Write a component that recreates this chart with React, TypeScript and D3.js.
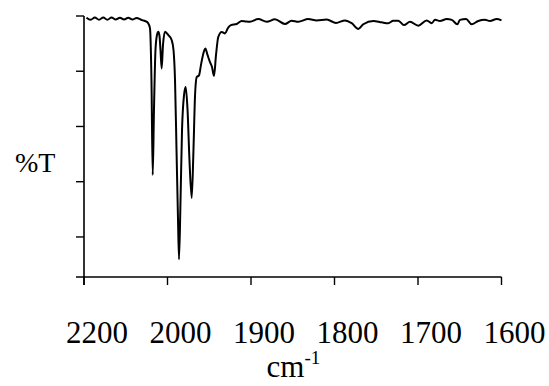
import React from "react";
import * as d3 from "d3";

// wavenumber (cm-1) and %T
const wavenumbers: number[] = [
  2097, 2092, 2087, 2082, 2077, 2072, 2067, 2062, 2057, 2052, 2047, 2042, 2037, 2033,
  2030.5, 2027, 2023.4, 2021, 2019.2, 2017.7, 2016.2, 2014.4, 2012.6, 2011, 2009.6, 2008.4,
  2007, 2005.4, 2003, 1999, 1995, 1992.8, 1991, 1989.2, 1987.4, 1986.2, 1984.4, 1982.6,
  1980.2, 1978.2, 1976, 1973.7, 1971, 1968.9, 1967, 1965, 1962.3, 1959.9, 1957.5, 1954.7,
  1952.1, 1949.1, 1946.7, 1944.3, 1941.9, 1939.2, 1935.1, 1931.1, 1927.5, 1924, 1917.1,
  1911.1, 1906, 1901.2, 1891.3, 1881.2, 1871.3, 1859.3, 1851.3, 1843.4, 1831.4, 1821.3,
  1809.3, 1798.2, 1787.4, 1779.4, 1771.5, 1765.5, 1753.5, 1743.5, 1735.6, 1729.6, 1723.6,
  1716.8, 1709.6, 1699.6, 1689.6, 1683.6, 1679.6, 1673.7, 1665.6, 1659.6, 1652.9, 1649.7,
  1642.5, 1635.7, 1627.8, 1619.8, 1613.8, 1605.8, 1600,
];
const transmittance: number[] = [
  99.4, 98.6, 99.5, 98.6, 99.5, 98.6, 99.5, 98.7, 99.4, 98.7, 99.4, 98.7, 99.3, 98.9,
  98.5, 98.2, 97.5, 95.6, 76.8, 42.4, 66, 87.7, 93.1, 94.3, 92.8, 87.7,
  81, 89.5, 94.3, 93.1, 91.3, 87.7, 76.8, 51.5, 26.1, 11.9, 33.4, 58.7,
  71.4, 74.3, 66, 47.9, 34.1, 51.5, 71.4, 77.9, 78.5, 82.3, 85.9, 88.2,
  85.9, 83.3, 81.5, 78.3, 85.9, 92.4, 94.2, 93.7, 95.7, 96.7, 97.1,
  98.2, 98, 97.9, 98.9, 97.9, 98.8, 97.1, 98.3, 97.9, 98.9, 98.4,
  98.7, 97.5, 98.4, 97.4, 95.3, 97, 98.2, 97.7, 97.4, 98.3, 98.3,
  96.7, 97.9, 96.5, 98.4, 97.4, 98.6, 98.2, 98.9, 98.6, 97, 98.6,
  98.9, 97, 98.2, 98.6, 98.2, 98.9, 98.4,
];
const xTickValues: number[] = [2100, 2000, 1900, 1800, 1700, 1600];
const xTickLabels: string[] = ["2200", "2000", "1900", "1800", "1700", "1600"];
const yTickValues: number[] = [100, 80, 60, 40, 20];

const W = 549;
const H = 386;
const left = 84;
const right = 501.5;
const top = 16;
const bottom = 277;
const FONT = '"Liberation Serif", "DejaVu Serif", "Times New Roman", Times, serif';

export default function App() {
  const x = d3.scaleLinear().domain([2100, 1600]).range([left, right]);
  const y = d3.scaleLinear().domain([5.5, 100]).range([bottom, top]);
  const pts: [number, number][] = wavenumbers.map((w, i) => [w, transmittance[i]]);
  const line = d3
    .line<[number, number]>()
    .x((d) => x(d[0]))
    .y((d) => y(d[1]))
    .curve(d3.curveMonotoneX);

  return (
    <svg
      width={W}
      height={H}
      style={{ position: "absolute", left: 0, top: 0, background: "#fff" }}
      fontFamily={FONT}
    >
      <rect x={0} y={0} width={W} height={H} fill="#fff" />
      {/* y axis */}
      <line x1={left} x2={left} y1={top} y2={bottom + 8} stroke="#000" strokeWidth={1.6} />
      {yTickValues.map((v) => (
        <line key={v} x1={left - 8} x2={left} y1={y(v)} y2={y(v)} stroke="#000" strokeWidth={1.4} />
      ))}
      {/* x axis */}
      <line x1={left - 8} x2={right} y1={bottom} y2={bottom} stroke="#000" strokeWidth={1.6} />
      {xTickValues.map((v) => (
        <line key={v} x1={x(v)} x2={x(v)} y1={bottom} y2={bottom + 8} stroke="#000" strokeWidth={1.4} />
      ))}
      {xTickValues.map((v, i) => (
        <text
          key={"l" + v}
          x={x(v) + 13}
          y={343}
          fontFamily={FONT}
          fontSize={31}
          textAnchor="middle"
          fill="#000"
        >
          {xTickLabels[i]}
        </text>
      ))}
      <path d={line(pts) || ""} fill="none" stroke="#000" strokeWidth={2} strokeLinejoin="round" />
      <text x={15} y={172} fontFamily={FONT} fontSize={28} fill="#000">
        %T
      </text>
      <text x={266.5} y={377} fontFamily={FONT} fontSize={31} fill="#000">
        cm
        <tspan fontSize={19} dy={-13}>
          -1
        </tspan>
      </text>
    </svg>
  );
}
